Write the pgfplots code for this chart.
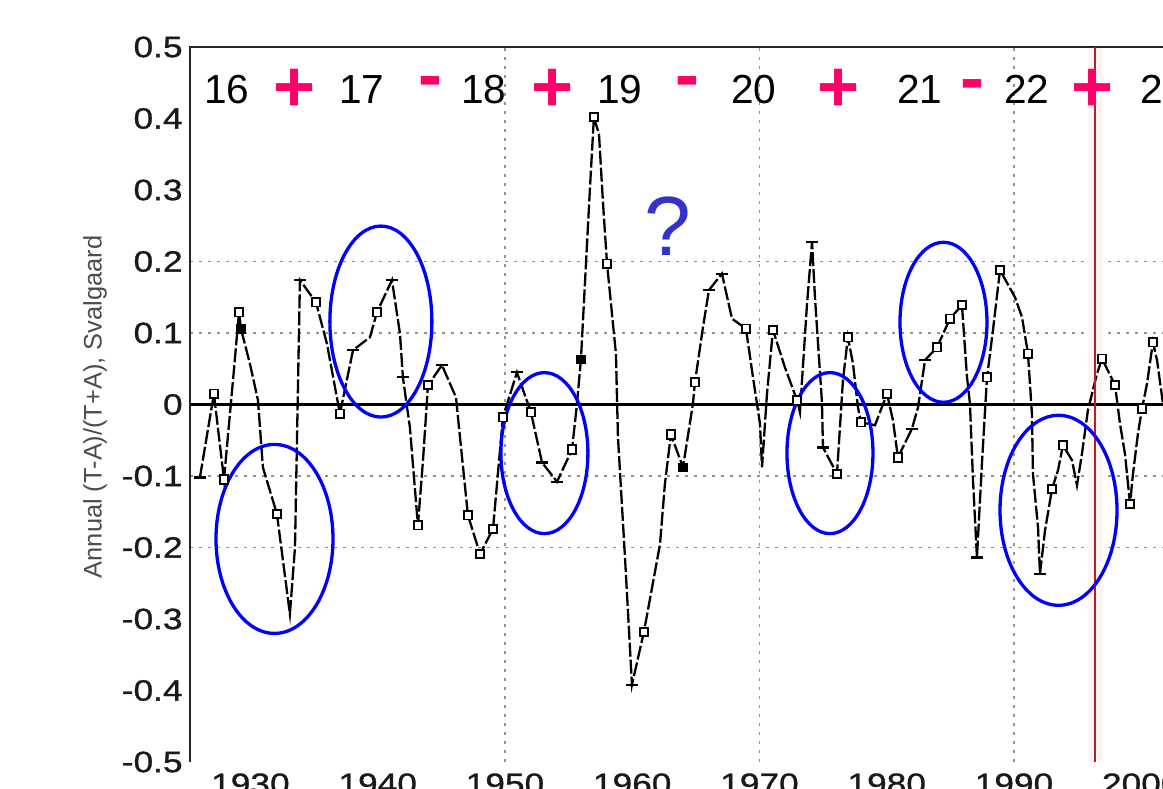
\documentclass[border=0pt]{standalone}
\usepackage{fontspec}
\setmainfont{Liberation Sans}
\newfontfamily\tickfont{Liberation Sans}[FakeStretch=1.2,FakeBold=1]
\newfontfamily\boldsym{Liberation Sans Bold}
\usepackage{pgfplots}
\pgfplotsset{compat=1.18}
\definecolor{pk}{HTML}{FF0066}
\definecolor{qblue}{HTML}{3333CC}
\definecolor{redl}{HTML}{B22222}
\begin{document}
\begin{tikzpicture}
\useasboundingbox (0,0) rectangle (581.5pt,394pt);
\begin{axis}[
  at={(95pt,13pt)}, anchor=south west,
  scale only axis, width=486.5pt, height=357.5pt,
  xmin=1925.25, xmax=2001.71, ymin=-0.5, ymax=0.5,
  axis line style={draw=none},
  major tick length=0pt,
  xtick={1930,1940,1950,1960,1970,1980,1990,2000},
  xticklabels={1930,1940,1950,1960,1970,1980,1990,2000},
  ytick={-0.5,-0.4,-0.3,-0.2,-0.1,0,0.1,0.2,0.3,0.4,0.5},
  yticklabels={-0.5,-0.4,-0.3,-0.2,-0.1,0,0.1,0.2,0.3,0.4,0.5},
  tick label style={font=\tickfont\fontsize{14.7}{16}\selectfont, color=black!90},
  xticklabel style={anchor=north, inner sep=0pt, yshift=-5.5pt},
  yticklabel style={anchor=east, inner sep=0pt, xshift=-3.5pt},
  ylabel={Annual (T-A)/(T+A), Svalgaard},
  every axis y label/.style={at={(axis description cs:-0.0976,0.4965)}, rotate=90, anchor=center, font=\fontsize{12.7}{14}\selectfont, color=black!70},
  clip=false,
]
% grid lines
\draw[gray!85, line width=0.8pt, dash pattern=on 1.5pt off 3pt] (axis cs:1925.25,0.2) -- (axis cs:2001.71,0.2);
\draw[gray!85, line width=0.8pt, dash pattern=on 1.5pt off 3pt] (axis cs:1925.25,0.1) -- (axis cs:2001.71,0.1);
\draw[gray!85, line width=0.8pt, dash pattern=on 1.5pt off 3pt] (axis cs:1925.25,-0.1) -- (axis cs:2001.71,-0.1);
\draw[gray!85, line width=0.8pt, dash pattern=on 1.5pt off 3pt] (axis cs:1925.25,-0.2) -- (axis cs:2001.71,-0.2);
\draw[gray!85, line width=0.8pt, dash pattern=on 1.5pt off 3pt] (axis cs:1950,-0.5) -- (axis cs:1950,0.5);
\draw[gray!85, line width=0.8pt, dash pattern=on 1.5pt off 3pt] (axis cs:1970,-0.5) -- (axis cs:1970,0.5);
\draw[gray!85, line width=0.8pt, dash pattern=on 1.5pt off 3pt] (axis cs:1990,-0.5) -- (axis cs:1990,0.5);
% faint band round the red line
\fill[red!4] (axis cs:1995.8,-0.5) rectangle (axis cs:1997.0,0.5);
% frame and zero line
\draw[black!85, line width=1.2pt] (axis cs:1925.25,-0.5) -- (axis cs:1925.25,0.5) -- (axis cs:2001.71,0.5);
\draw[black, line width=1.1pt] (axis cs:1925.25,0) -- (axis cs:2001.71,0);

\addplot[black, line width=1.15pt, dash pattern=on 7pt off 1.5pt] coordinates {
(1926.03,-0.102) (1927.13,0.015) (1927.92,-0.105) (1928.70,0.048) (1929.10,0.129)
(1929.25,0.106) (1929.96,0.057) (1930.59,0.006) (1930.98,-0.088) (1932.08,-0.153)
(1933.10,-0.293) (1933.50,-0.200) (1933.89,0.174) (1935.15,0.143) (1936.01,0.085)
(1937.03,-0.013) (1938.06,0.076) (1939.39,0.094) (1939.94,0.129) (1941.12,0.174)
(1941.75,0.099) (1941.98,0.038) (1942.53,-0.032) (1943.16,-0.169) (1943.56,-0.078)
(1943.95,0.027) (1945.05,0.055) (1946.15,0.010) (1947.09,-0.155) (1948.04,-0.209)
(1949.06,-0.174) (1949.84,-0.018) (1950.94,0.045) (1952.04,-0.011) (1952.91,-0.081)
(1954.09,-0.108) (1955.27,-0.063) (1955.66,0.001) (1955.97,0.063) (1956.68,0.303)
(1956.99,0.402) (1957.39,0.378) (1957.70,0.283) (1958.02,0.197) (1958.72,0.071)
(1958.88,-0.046) (1959.43,-0.213) (1959.98,-0.392) (1960.92,-0.318) (1962.18,-0.196)
(1962.57,-0.111) (1963.04,-0.042) (1963.99,-0.088) (1964.77,0.001) (1964.93,0.031)
(1965.56,0.108) (1966.03,0.160) (1967.05,0.183) (1967.84,0.120) (1968.94,0.106)
(1969.49,0.038) (1970.04,-0.027) (1970.20,-0.088) (1970.59,0.015) (1971.06,0.104)
(1972.00,0.052) (1972.95,0.006) (1973.18,-0.011) (1973.73,0.139) (1974.13,0.227)
(1974.36,0.150) (1974.91,0.003) (1974.99,-0.060) (1976.09,-0.097) (1976.56,0.034)
(1976.95,0.094) (1977.35,0.057) (1977.74,-0.004) (1977.98,-0.025) (1979.08,-0.029)
(1980.02,0.015) (1980.49,-0.022) (1980.88,-0.074) (1981.98,-0.034) (1982.46,-0.004)
(1983.01,0.062) (1983.95,0.080) (1984.97,0.120) (1985.91,0.139) (1986.31,0.038)
(1986.54,0.001) (1986.78,-0.106) (1987.09,-0.214) (1987.48,-0.083) (1987.88,0.038)
(1988.35,0.104) (1988.90,0.188) (1990.08,0.150) (1990.63,0.122) (1991.10,0.071)
(1991.41,-0.013) (1991.49,-0.097) (1991.89,-0.172) (1992.04,-0.237) (1992.44,-0.176)
(1992.99,-0.118) (1993.46,-0.092) (1993.85,-0.057) (1994.56,-0.078) (1994.95,-0.113)
(1995.34,-0.069) (1995.81,-0.008) (1996.52,0.043) (1996.92,0.064) (1997.94,0.027)
(1998.33,-0.027) (1998.72,-0.069) (1999.12,-0.139) (1999.35,-0.097) (1999.74,-0.041)
(2000.06,-0.006) (2000.45,0.029) (2000.92,0.087) (2001.24,0.062) (2001.71,0.001)
};
% open square markers
\addplot[only marks, mark=square*, mark size=2.1pt, mark options={draw=black, fill=white, line width=0.9pt}] coordinates {
(1927.13,0.015) (1927.92,-0.105) (1929.10,0.129) (1932.08,-0.153) (1935.15,0.143)
(1937.03,-0.013) (1939.94,0.129) (1943.16,-0.169) (1943.95,0.027) (1947.09,-0.155)
(1948.04,-0.209) (1949.06,-0.174) (1949.84,-0.018) (1952.04,-0.011) (1955.27,-0.063)
(1956.99,0.402) (1958.02,0.197) (1960.92,-0.318) (1963.04,-0.042) (1964.93,0.031)
(1968.94,0.106) (1971.06,0.104) (1972.95,0.006) (1976.09,-0.097) (1976.95,0.094)
(1977.98,-0.025) (1980.02,0.015) (1980.88,-0.074) (1983.95,0.080) (1984.97,0.120)
(1985.91,0.139) (1987.88,0.038) (1988.90,0.188) (1991.10,0.071) (1992.99,-0.118)
(1993.85,-0.057) (1996.92,0.064) (1997.94,0.027) (1999.12,-0.139) (2000.06,-0.006)
(2000.92,0.087)
};
% filled markers
\addplot[only marks, mark=square*, mark size=2.1pt, mark options={draw=black, fill=black}] coordinates {
(1929.25,0.106) (1955.97,0.063) (1963.99,-0.088)
};
% small glyph markers
\addplot[only marks, mark=-, mark size=3pt, mark options={line width=1.1pt, draw=black}] coordinates {
(1926.03,-0.102) (1933.89,0.174) (1938.06,0.076) (1941.12,0.174) (1941.98,0.038)
(1945.05,0.055) (1950.94,0.045) (1952.91,-0.081) (1954.09,-0.108) (1959.98,-0.392)
(1966.03,0.160) (1967.05,0.183) (1974.13,0.227) (1974.99,-0.060) (1981.98,-0.034)
(1983.01,0.062) (1987.09,-0.214) (1992.04,-0.237)
};
% red vertical line
\draw[redl, line width=1.3pt] (axis cs:1996.37,-0.5) -- (axis cs:1996.37,0.5);
% ellipses
\draw[blue, line width=1.65pt] (axis cs:1931.89,-0.188) ellipse [x radius=29.25pt, y radius=47.25pt];
\draw[blue, line width=1.65pt] (axis cs:1940.25,0.116) ellipse [x radius=25.5pt, y radius=47.75pt];
\draw[blue, line width=1.65pt] (axis cs:1953.10,-0.068) ellipse [x radius=21.75pt, y radius=40.25pt];
\draw[blue, line width=1.65pt] (axis cs:1975.54,-0.068) ellipse [x radius=21.5pt, y radius=40.25pt];
\draw[blue, line width=1.65pt] (axis cs:1984.46,0.115) ellipse [x radius=21.75pt, y radius=40pt];
\draw[blue, line width=1.65pt] (axis cs:1993.50,-0.148) ellipse [x radius=29.25pt, y radius=47.5pt];
% cycle numbers
\node[font=\fontsize{20.3}{22}\selectfont] at (axis cs:1928.15,0.441) {16};
\node[font=\fontsize{20.3}{22}\selectfont] at (axis cs:1938.76,0.441) {17};
\node[font=\fontsize{20.3}{22}\selectfont] at (axis cs:1948.35,0.441) {18};
\node[font=\fontsize{20.3}{22}\selectfont] at (axis cs:1959.04,0.441) {19};
\node[font=\fontsize{20.3}{22}\selectfont] at (axis cs:1969.57,0.441) {20};
\node[font=\fontsize{20.3}{22}\selectfont] at (axis cs:1982.61,0.441) {21};
\node[font=\fontsize{20.3}{22}\selectfont] at (axis cs:1991.02,0.441) {22};
\node[font=\fontsize{20.3}{22}\selectfont, anchor=west, inner sep=0pt] at (axis cs:1999.90,0.441) {23};
% signs
\node[font=\boldsym\fontsize{36}{38}\selectfont, text=pk, inner sep=0pt] at (axis cs:1933.50,0.440) {+};
\node[font=\boldsym\fontsize{36}{38}\selectfont, text=pk, inner sep=0pt] at (axis cs:1953.77,0.440) {+};
\node[font=\boldsym\fontsize{36}{38}\selectfont, text=pk, inner sep=0pt] at (axis cs:1976.25,0.440) {+};
\node[font=\boldsym\fontsize{36}{38}\selectfont, text=pk, inner sep=0pt] at (axis cs:1996.21,0.440) {+};
\node[font=\boldsym\fontsize{36}{38}\selectfont, text=pk, inner sep=0pt] at (axis cs:1944.18,0.442) {-};
\node[font=\boldsym\fontsize{36}{38}\selectfont, text=pk, inner sep=0pt] at (axis cs:1964.38,0.442) {-};
\node[font=\boldsym\fontsize{36}{38}\selectfont, text=pk, inner sep=0pt] at (axis cs:1986.70,0.438) {-};
% question mark
\node[font=\fontsize{42}{44}\selectfont, text=qblue, inner sep=0pt] at (axis cs:1962.81,0.249) {?};
\end{axis}
\end{tikzpicture}
\end{document}
